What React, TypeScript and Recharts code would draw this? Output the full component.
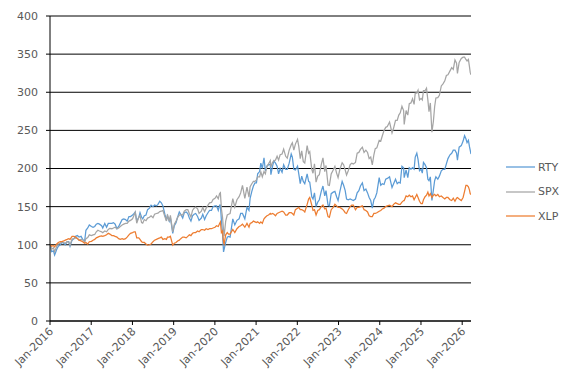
import React from "react";
import { LineChart, Line, XAxis, YAxis, CartesianGrid } from "recharts";

const dates: string[] = [
  "2016-01-04","2016-01-15","2016-02-01","2016-02-11","2016-03-01","2016-03-15","2016-04-01","2016-04-15","2016-05-02","2016-05-16","2016-06-01","2016-06-15","2016-06-27","2016-07-15","2016-08-01","2016-08-15","2016-09-01","2016-09-15","2016-10-03","2016-10-17","2016-11-04","2016-11-15","2016-12-01","2016-12-15",
  "2017-01-03","2017-01-17","2017-02-01","2017-02-15","2017-03-01","2017-03-15","2017-04-03","2017-04-13","2017-05-01","2017-05-17","2017-06-01","2017-06-15","2017-07-03","2017-07-17","2017-08-01","2017-08-17","2017-09-01","2017-09-15","2017-10-02","2017-10-16","2017-11-01","2017-11-15","2017-12-01","2017-12-15",
  "2018-01-02","2018-01-16","2018-01-26","2018-02-08","2018-02-26","2018-03-09","2018-03-23","2018-04-02","2018-04-16","2018-05-01","2018-05-15","2018-06-01","2018-06-15","2018-07-02","2018-07-16","2018-08-01","2018-08-15","2018-08-31","2018-09-14","2018-09-28","2018-10-15","2018-10-29","2018-11-07","2018-11-23","2018-12-03","2018-12-24",
  "2019-01-07","2019-01-22","2019-02-05","2019-02-20","2019-03-05","2019-03-22","2019-04-05","2019-04-22","2019-05-06","2019-05-20","2019-06-03","2019-06-17","2019-07-01","2019-07-15","2019-08-01","2019-08-14","2019-09-03","2019-09-16","2019-10-02","2019-10-16","2019-11-01","2019-11-15","2019-12-02","2019-12-16",
  "2020-01-02","2020-01-16","2020-01-31","2020-02-12","2020-02-19","2020-02-28","2020-03-09","2020-03-18","2020-03-23","2020-04-06","2020-04-20","2020-05-01","2020-05-15","2020-06-08","2020-06-26","2020-07-15","2020-08-03","2020-08-17","2020-09-02","2020-09-23","2020-10-12","2020-10-30","2020-11-09","2020-11-24","2020-12-08","2020-12-22",
  "2021-01-04","2021-01-15","2021-02-01","2021-02-12","2021-02-25","2021-03-12","2021-03-24","2021-04-07","2021-04-21","2021-05-07","2021-05-12","2021-05-27","2021-06-08","2021-06-22","2021-07-06","2021-07-19","2021-08-02","2021-08-19","2021-09-02","2021-09-20","2021-10-04","2021-10-21","2021-11-08","2021-11-18","2021-12-01","2021-12-15",
  "2022-01-03","2022-01-14","2022-01-27","2022-02-09","2022-02-23","2022-03-08","2022-03-29","2022-04-11","2022-04-21","2022-05-09","2022-05-20","2022-06-02","2022-06-16","2022-07-01","2022-07-15","2022-08-01","2022-08-16","2022-09-01","2022-09-12","2022-09-30","2022-10-12","2022-10-28","2022-11-15","2022-11-30","2022-12-15","2022-12-28",
  "2023-01-13","2023-02-02","2023-02-15","2023-03-01","2023-03-13","2023-03-28","2023-04-14","2023-04-28","2023-05-12","2023-05-31","2023-06-15","2023-06-30","2023-07-14","2023-07-31","2023-08-15","2023-08-31","2023-09-15","2023-09-29","2023-10-13","2023-10-27","2023-11-10","2023-11-22","2023-12-06","2023-12-27",
  "2024-01-10","2024-01-24","2024-02-08","2024-02-23","2024-03-08","2024-03-28","2024-04-19","2024-05-03","2024-05-20","2024-06-04","2024-06-18","2024-07-01","2024-07-16","2024-07-31","2024-08-05","2024-08-22","2024-09-06","2024-09-19","2024-10-04","2024-10-18","2024-11-01","2024-11-11","2024-11-25","2024-12-06","2024-12-19",
  "2025-01-02","2025-01-13","2025-01-23","2025-02-06","2025-02-19","2025-03-03","2025-03-13","2025-03-25","2025-04-08","2025-04-21","2025-05-02","2025-05-13","2025-05-30","2025-06-13","2025-06-30","2025-07-15","2025-07-31","2025-08-14","2025-08-28","2025-09-15","2025-09-30","2025-10-14","2025-10-29","2025-11-12","2025-11-20","2025-12-05","2025-12-24",
  "2026-01-09","2026-01-22","2026-02-03","2026-02-13","2026-02-25","2026-03-06","2026-03-13","2026-03-20"
];

const rty: number[] = [
  100,91,92,86.5,94,98,100,103,102,100,104,104,98,106,108,111,112,110,111,107,105,119,122,126,
  124,123,124,127,128,127,125,122,128,123,128,128,128,129,127,121,124,128,133,134,133,131,137,137,
  139,141,143,131,136,142,136,134,138,139,146,148,152,150,152,151,153,157,155,151,140,132,138,131,136,115,
  125,129,136,143,140,135,142,143,141,135,131,138,140,141,137,132,135,140,133,138,142,145,145,150,
  151,151,145,152,152,132,114,90.5,94,103,110,111,110,134,126,132,134,141,141,134,149,145,161,170,177,181,
  181,193,196,207,200,214,197,203,205,205,192,203,210,207,203,193,200,195,205,199,199,207,219,215,199,198,
  203,193,180,190,183,180,193,183,182,163,160,168,150,156,159,170,177,164,171,152,151,167,169,170,163,158,
  170,183,178,171,160,159,160,159,158,160,168,171,177,181,171,173,168,162,158,148,159,162,168,188,
  178,180,179,186,187,189,175,180,186,180,182,181,203,201,188,198,188,201,199,201,199,215,220,212,197,
  199,194,208,205,201,186,184,189,158,172,184,189,186,190,197,199,199,206,213,218,220,224,224,220,211,228,230,
  236,243,239,234,237,229,224,219
];

const spx: number[] = [
  100,94,96,91,98,101,102,104,103,102,104,103.5,99.5,107.5,108,109,108.5,106,107,106.5,103.5,108,109.5,113,
  112,113,113.5,117,119,118,117,115.7,118,117,120,121.5,121,122,123,121,122,124,126,127,128,128,131,132,
  134,139,142.7,128.2,136,138.4,129,128.3,133,131.5,135,136,138,135.5,140,141,141.5,143.5,144,145,137,131.2,139.8,130.8,138.6,116.8,
  127,131,136,139,139.5,139,144,146,146,141,136.3,145,148,149.5,147,141.1,144,149,143.4,148,152,155,155.5,159.5,
  161,164,160.3,167,168.2,147,136,119,111.1,131,139,140,141,160.6,149.5,159,163,168,177.9,160.8,175.6,162.5,176,180,183,183,
  185,189,189,195.5,189,196,193,203,206,210.3,201.9,208,210,211,216,211,218,219,225.4,216,213.6,224,231,233.8,224.2,232,
  238.3,229,213,223,209,207.2,230.1,220,222,199,193.8,206,182.2,190,192,205,213.9,196,204,178.2,177.7,193,198,202.7,194,188,
  199,207.6,205,198,191.5,197,205,207,206,208,220,221.1,225,228,221,224,221,213,215,204.6,218,226,227,237,
  236,243,250,254,255,261,246.8,253,263,263,270,273,281.6,276,257.7,276,270,285,286,291.4,284,299,299,302.6,290,
  292,290,302,302,305.3,290,274.4,286,247.5,262,281,292.5,293,296,308.3,311,315,322,323,328,332.3,330,342.3,338,324.8,339,344.4,
  346,346,343,341,343,334,326,323
];

const xlp: number[] = [
  100,98,99,97,101,103,104,104,105,106,107,108,107,111,111,110,108,106,105,104,102,103,101,104,
  104.5,106,107,109,110,111,111.5,111,112,113,115,114,112,112,111,110,108,107,108,107,108,110,113,115,
  116,117,117,109,109,107,104,103,103,101,99.5,100,101,104,106,107,108,109,110,107,108,107,110,110,111,99.5,
  102,103,105,106,108,110,110,109,111,113,112,115,116,116,118,117,120,120,119,121,120,121,121,122,
  123,125,124,128,130,116,118,103,101,113,116,114,114,120,116,121,124,125,127,123,128,123,128,129,131,130,
  129,130,128,130,128,134,136,138,139,141,140,141,140,138,141,142,143,144,143,139,139,142,142,141,139,146,
  148,149,146,146,145,143,153,160,162,152,145,146,139,145,146,150,152,147,148,137,136,146,149,153,151,149,
  149,147,145,142,141,146,150,152,152,146,149,149,150,151,146,145,143,138,137,137,141,141,142,144,
  145,147,148,150,151,152,150,153,155,154,153,153,156,158,158,164,163,165,163,164,159,162,166,162,157,
  154,154,159,163,165,169,164,167,162,165,166,164,166,163,164,162,160,162,162,159,158,161,157,161,162,160,158,
  162,170,178,178,176,172,167,166
];

const yTicks: number[] = [0, 50, 100, 150, 200, 250, 300, 350, 400];
const xTicks: number[] = [2016, 2017, 2018, 2019, 2020, 2021, 2022, 2023, 2024, 2025, 2026];
const seriesNames: string[] = ["RTY", "SPX", "XLP"];
const seriesColors: string[] = ["#5B9BD5", "#A5A5A5", "#ED7D31"];

function toYear(s: string): number {
  const [y, m, d] = s.split("-").map(Number);
  const start = Date.UTC(y, 0, 1);
  const end = Date.UTC(y + 1, 0, 1);
  return y + (Date.UTC(y, m - 1, d) - start) / (end - start);
}

const data = dates.map((d, i) => ({
  t: toYear(d),
  RTY: rty[i],
  SPX: spx[i],
  XLP: xlp[i],
}));

const FONT = "'DejaVu Sans', Verdana, sans-serif";
const TEXT_COLOR = "#595959";

const XTick = (props: any) => {
  const { x, y, payload } = props;
  return (
    <g transform={`translate(${x + 4},${y + 5})`}>
      <text
        x={0}
        y={0}
        textAnchor="end"
        transform="rotate(-45)"
        fill={TEXT_COLOR}
        fontSize={11}
        fontFamily={FONT}
      >
        {`Jan-${payload.value}`}
      </text>
    </g>
  );
};

export default function App() {
  return (
    <div style={{ position: "fixed", left: 0, top: 0, width: 572, height: 385, background: "#fff" }}>
      <LineChart
        width={572}
        height={385}
        data={data}
        margin={{ top: 16, right: 101, left: 0, bottom: 0 }}
      >
        <CartesianGrid vertical={false} stroke="#000" strokeWidth={1} />
        <XAxis
          dataKey="t"
          type="number"
          domain={[2016, "dataMax"]}
          ticks={xTicks}
          interval={0}
          height={64}
          tick={<XTick />}
          tickSize={4}
          tickMargin={2}
          axisLine={{ stroke: "#000" }}
          tickLine={{ stroke: "#000" }}
          allowDataOverflow
        />
        <YAxis
          domain={[0, 400]}
          ticks={yTicks}
          interval={0}
          width={50}
          tickSize={4}
          tickMargin={8}
          axisLine={{ stroke: "#000" }}
          tickLine={{ stroke: "#000" }}
          tick={{ fill: TEXT_COLOR, fontSize: 11, fontFamily: FONT }}
        />
        <YAxis
          yAxisId="r"
          orientation="right"
          domain={[0, 400]}
          width={0}
          tick={false}
          tickLine={false}
          axisLine={{ stroke: "#000" }}
        />
        {seriesNames.map((n, i) => (
          <Line
            key={n}
            dataKey={n}
            type="linear"
            stroke={seriesColors[i]}
            strokeWidth={1.25}
            dot={false}
            activeDot={false}
            isAnimationActive={false}
          />
        ))}
      </LineChart>
      <div
        style={{
          position: "absolute",
          left: 506,
          top: 155,
          fontFamily: FONT,
          fontSize: 11,
          color: TEXT_COLOR,
        }}
      >
        {seriesNames.map((n, i) => (
          <div key={n} style={{ display: "flex", alignItems: "center", height: 24.5 }}>
            <svg width={29} height={4} style={{ marginRight: 3 }}>
              <line x1={0} y1={2} x2={29} y2={2} stroke={seriesColors[i]} strokeWidth={1.25} />
            </svg>
            <span>{n}</span>
          </div>
        ))}
      </div>
    </div>
  );
}
